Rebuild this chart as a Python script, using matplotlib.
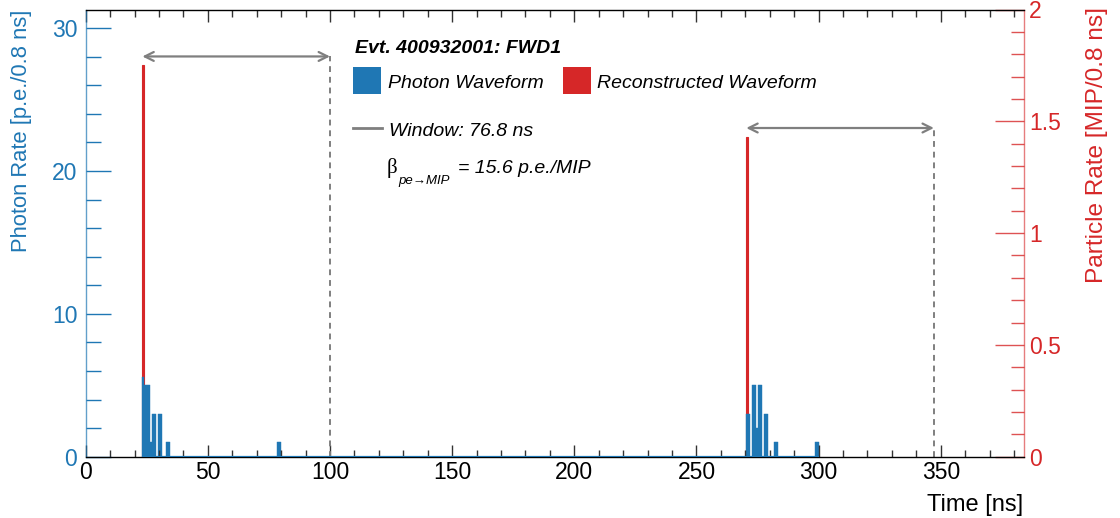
import matplotlib
matplotlib.use("Agg")
import matplotlib.pyplot as plt
from matplotlib.patches import Rectangle
from matplotlib.lines import Line2D
from matplotlib.ticker import MultipleLocator

# ---------------- data ----------------
bin_width_ns = 0.8
photon_bin_start_ns = [23.2, 24.0, 24.8, 25.6, 26.4, 27.2, 28.0, 29.6, 30.4, 32.8, 33.6,
                       78.4, 79.2,
                       270.4, 271.2, 272.8, 273.6, 274.4, 275.2, 276.0, 277.6, 278.4, 281.6, 282.4,
                       298.4, 299.2]
photon_rate_pe = [5.6, 5, 5, 5, 1, 3, 3, 3, 3, 1, 1,
                  1, 1,
                  3, 3, 5, 5, 2, 5, 5, 3, 3, 1, 1,
                  1, 1]
photon_range_ns = [23.2, 300.0]

recon_bin_start_ns = [23.2, 270.4]
recon_rate_mip = [1.754, 1.43]

window_start_ns = [23.2, 270.4]
window_length_ns = 76.8
window_arrow_mip = [1.79, 1.47]

beta_pe_per_mip = 15.6
time_max_ns = 384.0
left_ymax = 31.3
right_ymax = 2.0

x_ticks = [0, 50, 100, 150, 200, 250, 300, 350]
left_ticks = [0, 10, 20, 30]
right_ticks = [0, 0.5, 1, 1.5, 2]
right_ticklabels = ["0", "0.5", "1", "1.5", "2"]

title_text = "Evt. 400932001: FWD1"
legend_labels = ["Photon Waveform", "Reconstructed Waveform"]
window_label = "Window: 76.8 ns"

# ---------------- style ----------------
BLUE = "#1f77b4"
RED = "#d62728"
GRAY = "#7f7f7f"
FONT = ["Liberation Sans", "DejaVu Sans"]
plt.rcParams["font.family"] = FONT

W, H = 1120, 518
fig = plt.figure(figsize=(W / 100, H / 100), dpi=100)

x0, x1 = 85.7, 1023.8
ytop, ybot = 9.5, 456.7
ax = fig.add_axes([x0 / W, 1 - ybot / H, (x1 - x0) / W, (ybot - ytop) / H])
ax2 = ax.twinx()
ax.set_zorder(2)
ax2.set_zorder(1)
ax.patch.set_visible(False)

ax.set_xlim(0, time_max_ns)
ax.set_ylim(0, left_ymax)
ax2.set_ylim(0, right_ymax)

# reconstructed waveform (right axis, behind)
ax2.bar(recon_bin_start_ns, recon_rate_mip, width=bin_width_ns, align="edge",
        color=RED, edgecolor=RED, linewidth=0.8)

# photon waveform (left axis, front)
ax.bar(photon_bin_start_ns, photon_rate_pe, width=bin_width_ns, align="edge",
       color=BLUE, edgecolor=BLUE, linewidth=0.3)
ax.plot(photon_range_ns, [0, 0], color=BLUE, lw=1.6, solid_capstyle="butt", zorder=3)

# window arrows + dashed lines
for ws, ya in zip(window_start_ns, window_arrow_mip):
    we = ws + window_length_ns
    ype = ya * left_ymax / right_ymax
    ax.annotate("", xy=(ws, ype), xytext=(we, ype),
                arrowprops=dict(arrowstyle="<->", color=GRAY, lw=1.6,
                                mutation_scale=16, shrinkA=0, shrinkB=0))
    ax.plot([we, we], [0, ype], color=GRAY, lw=1.4, ls=(0, (3, 2.5)))

# axes styling
ax.spines["right"].set_visible(False)
for s in ["left", "top", "bottom"]:
    ax2.spines[s].set_visible(False)
ax.spines["left"].set_color(BLUE)
ax.spines["left"].set_alpha(0.7)
ax2.spines["right"].set_color(RED)
ax2.spines["right"].set_alpha(0.6)
ax.spines["top"].set_color("black")
ax.spines["bottom"].set_color("black")
for sp in list(ax.spines.values()) + list(ax2.spines.values()):
    sp.set_linewidth(1.0)

ax.xaxis.set_major_locator(MultipleLocator(50))
ax.xaxis.set_minor_locator(MultipleLocator(10))
ax.set_xticks(x_ticks)
ax.set_xticklabels([str(v) for v in x_ticks])
ax.tick_params(axis="x", which="both", direction="in", top=True, bottom=True,
               colors="black", labelsize=16.5, pad=3)
ax.tick_params(axis="x", which="major", length=8.5, width=1, color="#333333")
ax.tick_params(axis="x", which="minor", length=5, width=1, color="#333333")

ax.yaxis.set_minor_locator(MultipleLocator(2))
ax.set_yticks(left_ticks)
ax.set_yticklabels([str(v) for v in left_ticks])
ax.tick_params(axis="y", which="both", direction="in", left=True, right=False,
               colors=BLUE, labelsize=16.5, pad=6)
ax.tick_params(axis="y", which="major", length=18, width=1)
ax.tick_params(axis="y", which="minor", length=11, width=1)

ax2.yaxis.set_minor_locator(MultipleLocator(0.1))
ax2.set_yticks(right_ticks)
ax2.set_yticklabels(right_ticklabels)
ax2.tick_params(axis="y", which="both", direction="in", right=True, left=False,
                colors=RED, labelsize=16.5, pad=4)
ax2.tick_params(axis="y", which="major", length=21, width=1)
ax2.tick_params(axis="y", which="minor", length=9.5, width=1)
for t in ax2.yaxis.get_ticklines(minor=False) + ax2.yaxis.get_ticklines(minor=True):
    t.set_alpha(0.8)

# axis titles
fig.text(22 / W, 1 - 10 / H, "Photon Rate [p.e./0.8 ns]", rotation=90, ha="center",
         va="top", color=BLUE, fontsize=15.8)
fig.text(1097 / W, 1 - 7 / H, "Particle Rate [MIP/0.8 ns]", rotation=90, ha="center",
         va="top", color=RED, fontsize=17.6)
fig.text(1023 / W, 1 - 511 / H, "Time [ns]", ha="right", va="baseline",
         color="black", fontsize=17)

# legend block
def px(x, y):
    return x / W, 1 - y / H

fig.text(*px(355, 52.7), title_text, fontsize=14, fontweight="bold", style="italic",
         va="baseline")
fig.patches.append(Rectangle(px(353.3, 94), 27.4 / W, 26.7 / H, transform=fig.transFigure,
                             facecolor=BLUE, edgecolor="none"))
fig.text(*px(388.3, 88.3), legend_labels[0], fontsize=14, style="italic", va="baseline")
fig.patches.append(Rectangle(px(562.7, 94), 28 / W, 26.7 / H, transform=fig.transFigure,
                             facecolor=RED, edgecolor="none"))
fig.text(*px(596.7, 88.3), legend_labels[1], fontsize=14, style="italic", va="baseline")
fig.lines.append(Line2D([353 / W, 382 / W], [1 - 128.3 / H] * 2, transform=fig.transFigure,
                        color=GRAY, lw=2))
fig.text(*px(389, 136), window_label, fontsize=14, style="italic", va="baseline")
fig.text(*px(386.5, 173.3), "\u03b2", fontsize=15, family=["Liberation Serif", "DejaVu Serif"],
         va="baseline")
fig.text(*px(398, 184), "pe\u2192MIP", fontsize=9.5, style="italic", va="baseline",
         family=["Liberation Sans", "DejaVu Sans"])
fig.text(*px(458, 173.3), "= %.1f p.e./MIP" % beta_pe_per_mip, fontsize=14, style="italic",
         va="baseline")

fig.savefig("out.png", dpi=100)
